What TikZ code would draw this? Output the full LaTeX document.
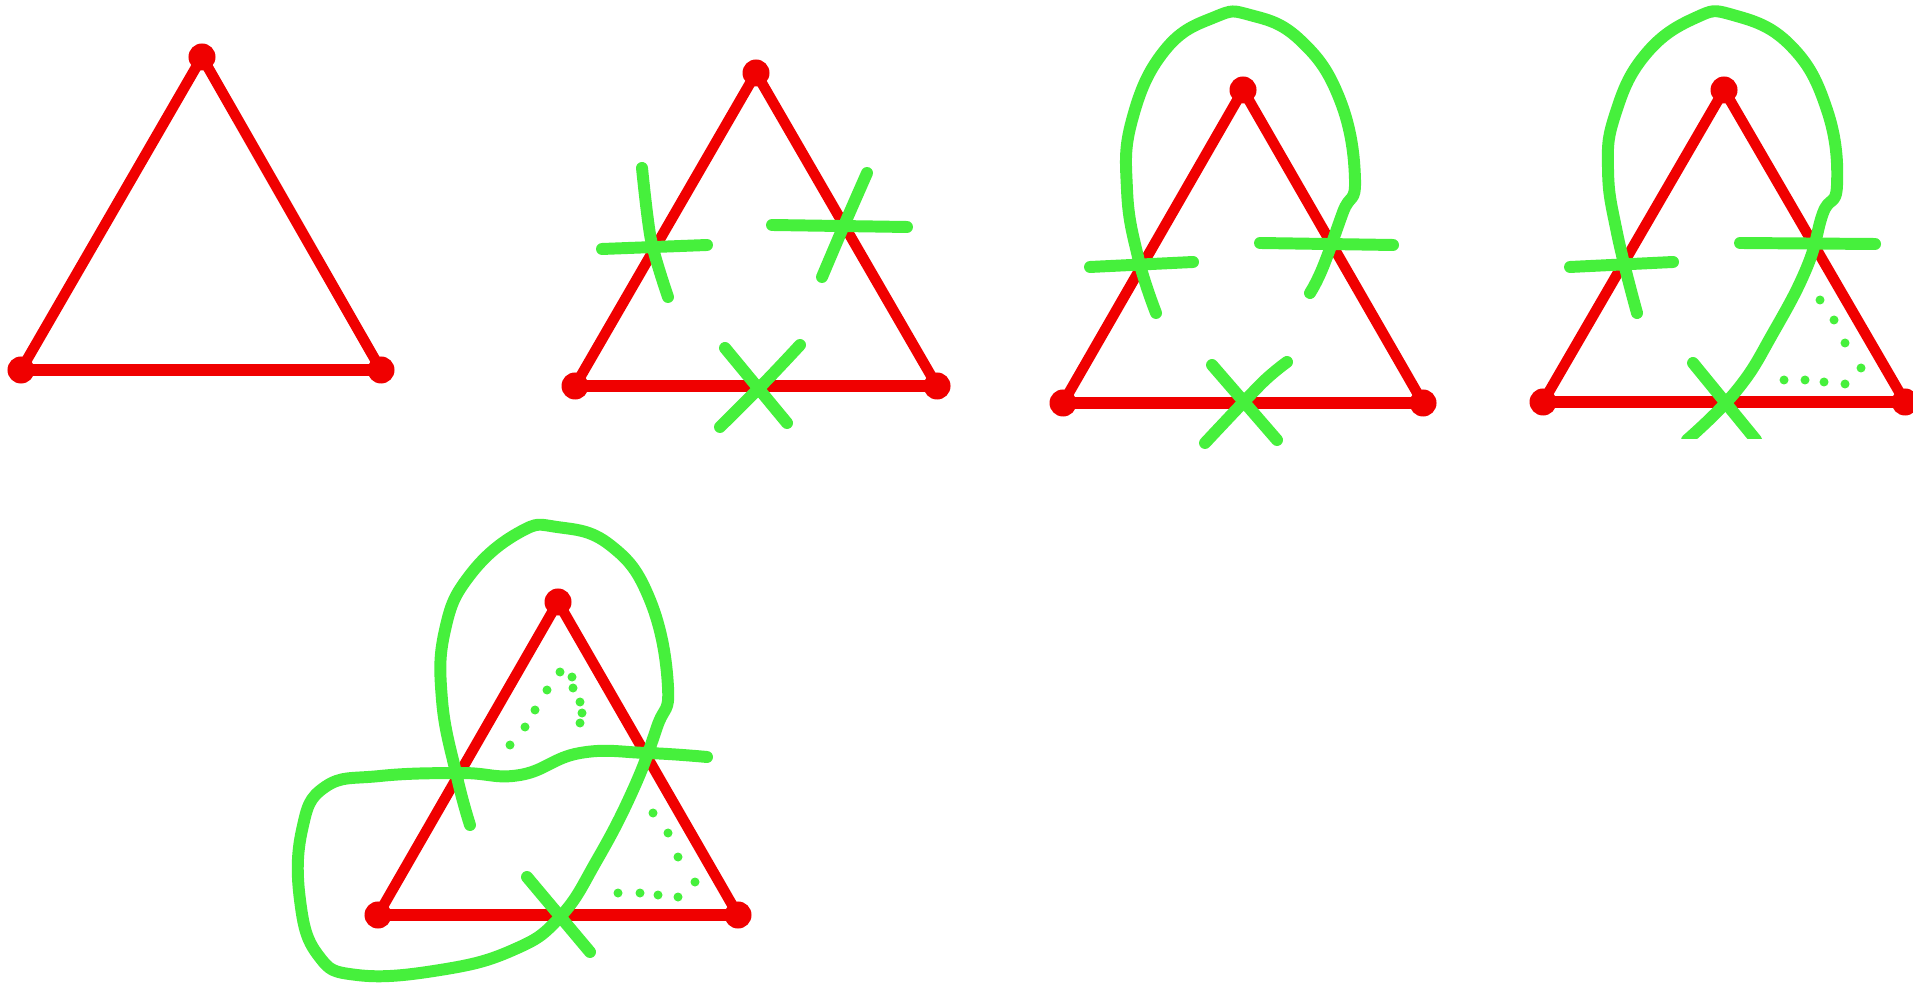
\documentclass[tikz,border=0pt]{standalone}
\usepackage{tikz}
\definecolor{penred}{RGB}{240,0,0}
\definecolor{pengreen}{RGB}{70,240,60}

\begin{document}
\begin{tikzpicture}[
  x=0.01cm, y=-0.01cm,
  vertex/.style={fill=penred},
  side/.style={draw=penred, line width=3pt, line join=round},
  base/.style={draw=penred, line width=3.6pt},
  pen/.style={draw=pengreen, line width=3.4pt, line cap=round, line join=round},
  loop/.style={pen, smooth, tension=0.75},
  dot/.style={fill=pengreen}
]

% Background
\fill[white] (0,0) rectangle (1913,986);
\useasboundingbox (0,0) rectangle (1913,986);

% ==================== TRIANGLE 1 ====================
\coordinate (top1) at (202,57);
\coordinate (left1) at (21,370);
\coordinate (right1) at (381,370);

\draw[side] (top1) -- (left1) -- (right1) -- cycle;
\draw[base] (left1) -- (right1);
\fill[vertex] (top1) circle[radius=0.135cm] (left1) circle[radius=0.135cm]
              (right1) circle[radius=0.135cm];

% ==================== TRIANGLE 2 ====================
\coordinate (top2) at (756,73);
\coordinate (left2) at (575,386);
\coordinate (right2) at (937,386);

\draw[side] (top2) -- (left2) -- (right2) -- cycle;
\draw[base] (left2) -- (right2);
\fill[vertex] (top2) circle[radius=0.135cm] (left2) circle[radius=0.135cm]
              (right2) circle[radius=0.135cm];

% crossings
\draw[pen] (602,249) -- (707,245);
\draw[pen] plot[smooth] coordinates {(642,168) (651,240) (668,297)};
\draw[pen] (772,225) -- (907,227);
\draw[pen] plot[smooth] coordinates {(867,173) (842,230) (822,277)};
\draw[pen] (725,348) -- (787,423);
\draw[pen] plot[smooth] coordinates {(800,345) (767,380) (720,427)};

% ==================== TRIANGLE 3 ====================
\coordinate (top3) at (1243,90);
\coordinate (left3) at (1063,403);
\coordinate (right3) at (1423,403);

\draw[side] (top3) -- (left3) -- (right3) -- cycle;
\draw[base] (left3) -- (right3);
\fill[vertex] (top3) circle[radius=0.135cm] (left3) circle[radius=0.135cm]
              (right3) circle[radius=0.135cm];

% loop over the top
\draw[loop] plot coordinates {
  (1156,313) (1138,257) (1127,190) (1132,120) (1165,50) (1215,17) (1250,15)
  (1300,40) (1340,100) (1355,180) (1343,212) (1323,267) (1310,293)
};
\draw[pen] (1090,267) -- (1193,262);
\draw[pen] (1260,243) -- (1393,245);
\draw[pen] (1212,365) -- (1277,440);
\draw[pen] plot[smooth] coordinates {(1287,362) (1262,383) (1205,443)};

% ==================== TRIANGLE 4 ====================
\coordinate (top4) at (1724,90);
\coordinate (left4) at (1543,402);
\coordinate (right4) at (1905,402);

\draw[side] (top4) -- (left4) -- (right4) -- cycle;
\draw[base] (left4) -- (right4);
\fill[vertex] (top4) circle[radius=0.135cm] (left4) circle[radius=0.135cm]
              (right4) circle[radius=0.135cm];

% loop over the top and down to the base
\draw[loop] plot coordinates {
  (1637,313) (1617,233) (1608,170) (1615,115) (1645,55) (1695,18) (1733,15)
  (1790,45) (1827,110) (1837,185) (1823,213) (1807,267) (1773,333)
  (1737,390) (1687,440)
};
\draw[pen] (1570,267) -- (1673,262);
\draw[pen] (1740,243) -- (1875,244);
\draw[pen] (1693,363) -- (1756,440);

% dotted corner
\fill[dot] (1820,300) circle[radius=0.045cm]
           (1834,320) circle[radius=0.045cm]
           (1845,343) circle[radius=0.045cm]
           (1861,368) circle[radius=0.045cm]
           (1845,384) circle[radius=0.045cm]
           (1824,382) circle[radius=0.045cm]
           (1805,380) circle[radius=0.045cm]
           (1784,380) circle[radius=0.045cm];

% cropped edge
\fill[white] (1527,439) rectangle (1913,986);

% ==================== TRIANGLE 5 ====================
\coordinate (top5) at (558,602);
\coordinate (left5) at (378,915);
\coordinate (right5) at (738,915);

\draw[side] (top5) -- (left5) -- (right5) -- cycle;
\draw[base] (left5) -- (right5);
\fill[vertex] (top5) circle[radius=0.135cm] (left5) circle[radius=0.135cm]
              (right5) circle[radius=0.135cm];

% one long stroke: top loop, base, left loop, back across
\draw[loop] plot coordinates {
  (470,825) (457,777) (442,700) (445,630) (470,575) (520,532) (557,527)
  (610,545) (650,600) (668,687) (657,727) (633,790) (597,860) (560,917)
  (513,950) (440,970) (357,975) (318,955) (300,900) (302,830) (325,787)
  (380,776) (460,773) (520,775) (580,753) (647,753) (707,757)
};
\draw[pen] (527,877) -- (590,952);

% dotted corners
\fill[dot] (510,745) circle[radius=0.045cm]
           (525,727) circle[radius=0.045cm]
           (535,710) circle[radius=0.045cm]
           (547,690) circle[radius=0.045cm]
           (560,672) circle[radius=0.045cm]
           (572,677) circle[radius=0.045cm]
           (573,688) circle[radius=0.045cm]
           (580,702) circle[radius=0.045cm]
           (582,713) circle[radius=0.045cm]
           (580,723) circle[radius=0.045cm];
\fill[dot] (653,813) circle[radius=0.045cm]
           (668,833) circle[radius=0.045cm]
           (678,857) circle[radius=0.045cm]
           (695,882) circle[radius=0.045cm]
           (678,897) circle[radius=0.045cm]
           (658,895) circle[radius=0.045cm]
           (640,893) circle[radius=0.045cm]
           (618,893) circle[radius=0.045cm];

\end{tikzpicture}
\end{document}
